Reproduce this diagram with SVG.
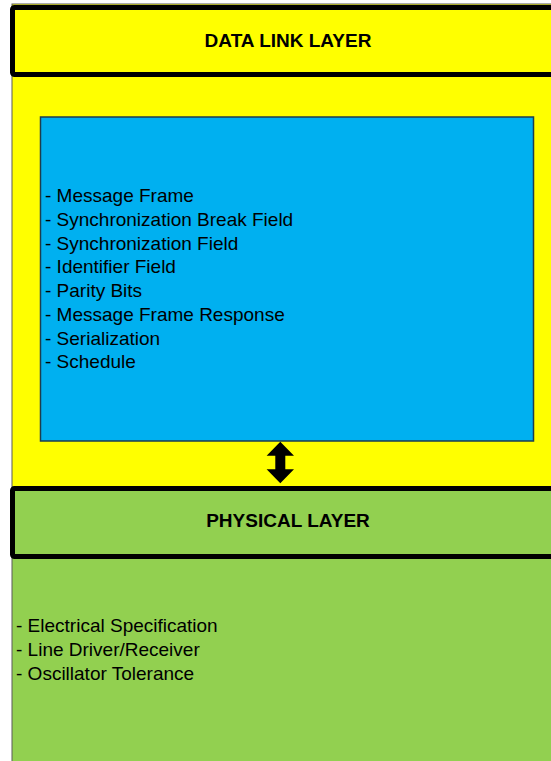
<svg xmlns="http://www.w3.org/2000/svg" width="551" height="761" viewBox="0 0 551 761">
  <style>
    .layer-body { stroke: #5a5a5a; stroke-width: 1; }
    .layer-head { stroke: #000000; stroke-width: 5; }
    .yellow { fill: #FFFF00; }
    .green { fill: #92D050; }
    .title { font-family: "Liberation Sans", Arial, sans-serif; font-size: 19px; font-weight: bold; fill: #000000; text-anchor: middle; }
    .item { font-family: "Liberation Sans", Arial, sans-serif; font-size: 19px; fill: #000000; }
  </style>

  <!-- Data link layer -->
  <g id="data-link-layer">
    <rect class="yellow layer-body" x="12" y="4" width="560" height="483"/>
    <rect class="yellow layer-head" x="12.5" y="7.5" width="560" height="67" rx="2"/>
    <text class="title" x="288" y="46.7">DATA LINK LAYER</text>
  </g>

  <!-- Data link functions -->
  <g id="data-link-functions">
    <rect x="40.5" y="117" width="493" height="324" fill="#00B0F0" stroke="#1d3d4f" stroke-width="1.5"/>
    <text class="item" x="45" y="202.3">- Message Frame</text>
    <text class="item" x="45" y="226">- Synchronization Break Field</text>
    <text class="item" x="45" y="249.7">- Synchronization Field</text>
    <text class="item" x="45" y="273.4">- Identifier Field</text>
    <text class="item" x="45" y="297.1">- Parity Bits</text>
    <text class="item" x="45" y="320.8">- Message Frame Response</text>
    <text class="item" x="45" y="344.5">- Serialization</text>
    <text class="item" x="45" y="368.2">- Schedule</text>
  </g>

  <!-- Physical layer -->
  <g id="physical-layer">
    <rect class="green layer-body" x="12" y="488" width="560" height="290"/>
    <rect class="green layer-head" x="12.5" y="488.5" width="560" height="68" rx="2"/>
    <text class="title" x="288" y="527.3">PHYSICAL LAYER</text>
    <text class="item" x="16" y="632.3">- Electrical Specification</text>
    <text class="item" x="16" y="656">- Line Driver/Receiver</text>
    <text class="item" x="16" y="679.7">- Oscillator Tolerance</text>
  </g>

  <!-- Connectors -->
  <g id="connectors">
    <path d="M280.3 441.7 L294 455.7 L285.3 455.7 L285.3 469.3 L294 469.3 L280.3 483.3 L266.6 469.3 L275.3 469.3 L275.3 455.7 L266.6 455.7 Z" fill="#000000"/>
  </g>
</svg>
